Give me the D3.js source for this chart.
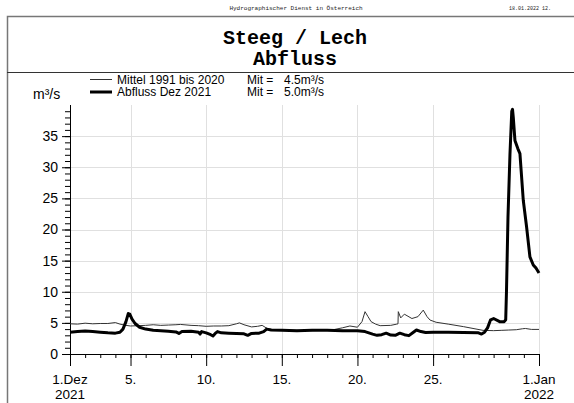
<!DOCTYPE html>
<html>
<head>
<meta charset="utf-8">
<script src="https://cdn.jsdelivr.net/npm/d3@7"></script>
<style>
  body { margin: 0; background: #fff; }
  text { font-family: Arial, "Liberation Sans", sans-serif; }
  .mono { font-family: "Courier New", "Liberation Mono", monospace; }
</style>
</head>
<body>
<script>
// days since 1 Dec 2021 00:00 and discharge in m3/s
var abflussDays = [0, 0.5, 1.0, 1.5, 2.0, 2.5, 3.0, 3.3, 3.5, 3.7, 3.85, 3.95, 4.1, 4.3, 4.6, 5.0, 5.5, 6.0, 6.5, 7.0, 7.2, 7.4,
  8.0, 8.5, 8.6, 8.7, 9.0, 9.3, 9.45, 9.6, 9.75, 10.0, 10.5, 11.0, 11.5, 11.75, 12.0, 12.5, 12.8, 13.0, 13.3, 14.0,
  15.0, 16.0, 17.0, 18.0, 19.0, 19.5, 20.0, 20.3, 20.6, 20.9, 21.2, 21.5, 21.8, 22.1, 22.4, 22.7, 22.9, 23.2, 23.5,
  24.0, 25.0, 26.0, 27.0, 27.2, 27.4, 27.6, 27.8, 28.0, 28.4, 28.7, 28.8, 28.85, 28.95, 29.08, 29.2, 29.25, 29.3,
  29.41, 29.6, 29.74, 29.96, 30.18, 30.4, 30.62, 30.8, 30.95, 31.0];
var abflussValues = [3.5, 3.6, 3.7, 3.6, 3.5, 3.4, 3.35, 3.5, 4.0, 5.2, 6.5, 6.4, 5.6, 4.9, 4.3, 4.0, 3.8, 3.75, 3.65, 3.55, 3.3, 3.6,
  3.65, 3.5, 3.2, 3.6, 3.4, 3.1, 2.9, 3.3, 3.6, 3.4, 3.35, 3.3, 3.25, 3.0, 3.3, 3.35, 3.6, 4.0, 3.85, 3.8,
  3.75, 3.8, 3.8, 3.75, 3.75, 3.6, 3.2, 3.0, 3.1, 3.35, 3.05, 3.0, 3.35, 3.1, 2.95, 3.5, 3.85, 3.6, 3.45,
  3.5, 3.5, 3.45, 3.4, 3.2, 3.5, 4.2, 5.5, 5.7, 5.2, 5.2, 5.5, 10, 22, 32, 39.0, 39.3, 38,
  34.3, 33, 32.2, 24.7, 20.4, 15.6, 14.3, 13.8, 13.2, 13.0];

var mittelDays = [0, 0.5, 1.0, 1.5, 2.0, 2.5, 3.0, 3.3, 3.7, 4.0, 4.5, 5.0, 5.5, 6.0, 6.5, 7.0, 7.3, 8.0, 8.5, 9.0, 9.5,
  10.0, 10.5, 11.0, 11.2, 11.5, 12.0, 12.4, 12.7, 13.1, 13.5, 14.0, 15.0, 16.0, 17.0, 17.5, 18.0, 18.5, 19.0,
  19.3, 19.5, 19.7, 19.9, 20.2, 20.5, 21.2, 21.6, 21.68, 21.7, 21.86, 22.1, 22.6, 23.0, 23.35, 23.6, 23.8, 24.2,
  25.0, 26.0, 27.3, 28.0, 28.5, 29.0, 29.5, 29.9, 30.1, 30.5, 31.0];
var mittelValues = [4.85, 4.8, 4.95, 4.85, 4.9, 4.9, 5.05, 4.8, 4.6, 4.5, 4.55, 4.6, 4.7, 4.6, 4.65, 4.7, 4.75, 4.6, 4.55, 4.45, 4.5,
  4.5, 4.55, 4.85, 5.0, 4.7, 4.35, 4.45, 4.6, 4.0, 3.9, 3.85, 3.8, 3.75, 3.8, 3.95, 4.2, 4.5, 4.3,
  5.2, 6.8, 6.0, 5.2, 4.8, 4.55, 4.6, 4.8, 4.85, 6.8, 5.8, 6.4, 5.7, 6.0, 7.05, 6.0, 5.45, 5.1,
  4.8, 4.4, 3.8, 3.75, 3.8, 3.85, 3.9, 4.05, 4.1, 3.95, 3.95];

var yTicks = [0, 5, 10, 15, 20, 25, 30, 35];
var xLabelDays = [5, 10, 15, 20, 25];
var legendNames = ["Mittel 1991 bis 2020", "Abfluss Dez 2021"];
var legendMeans = ["4.5m³/s", "5.0m³/s"];

var W = 574, H = 403;
var margin = {top: 105, left: 70, right: 35, bottom: 49},
    width = W - margin.left - margin.right,
    height = H - margin.top - margin.bottom;

var start = new Date(2021, 11, 1), end = new Date(2022, 0, 1);
function toDate(t) { return new Date(start.getTime() + t * 864e5); }

var svg = d3.select("body").append("svg")
    .attr("width", W)
    .attr("height", H);

svg.append("rect").attr("width", W).attr("height", H).attr("fill", "#fff");

// page frame and title box
svg.append("path")
  .attr("d", "M7.5," + H + "V16.5H" + W)
  .attr("fill", "none").attr("stroke", "#777").attr("stroke-width", 1.5);
svg.append("line")
  .attr("x1", 7).attr("x2", W).attr("y1", 72.5).attr("y2", 72.5)
  .attr("stroke", "#333").attr("stroke-width", 1);

svg.append("text").attr("class", "mono")
  .attr("x", 296).attr("y", 10).attr("text-anchor", "middle")
  .style("font-size", "6px").style("fill", "#222")
  .text("Hydrographischer Dienst in Österreich");
svg.append("text").attr("class", "mono")
  .attr("x", 509).attr("y", 10)
  .style("font-size", "5px").style("fill", "#222")
  .text("18.01.2022 12.");

svg.append("text").attr("class", "mono")
  .attr("x", 295).attr("y", 44).attr("text-anchor", "middle")
  .style("font-size", "20px").style("font-weight", "bold")
  .text("Steeg / Lech");
svg.append("text").attr("class", "mono")
  .attr("x", 295).attr("y", 65).attr("text-anchor", "middle")
  .style("font-size", "20px").style("font-weight", "bold")
  .text("Abfluss");

// legend
legendNames.forEach(function(name, i) {
  var ly = 79.5 + i * 12.5;
  svg.append("line")
    .attr("x1", 90).attr("x2", 112).attr("y1", ly).attr("y2", ly)
    .attr("stroke", i == 0 ? "#333" : "#000")
    .attr("stroke-width", i == 0 ? 1 : 3);
  svg.append("text").attr("x", 117).attr("y", ly + 4)
    .style("font-size", "12px").text(name);
  svg.append("text").attr("x", 247).attr("y", ly + 4)
    .style("font-size", "12px").text("Mit =");
  svg.append("text").attr("x", 284).attr("y", ly + 4)
    .style("font-size", "12px").text(legendMeans[i]);
});

svg.append("text").attr("x", 33).attr("y", 99)
  .style("font-size", "14px").text("m³/s");

var g = svg.append("g")
  .attr("transform", "translate(" + margin.left + "," + margin.top + ")");

var x = d3.scaleTime().domain([start, end]).range([0, width]);
var y = d3.scaleLinear().domain([0, 40]).range([height, 0]);

// grid
g.append("g").selectAll("line")
  .data(yTicks.filter(function(d) { return d > 0; }))
  .enter().append("line")
    .attr("x1", 0).attr("x2", width)
    .attr("y1", function(d) { return Math.round(y(d)) + 0.5; })
    .attr("y2", function(d) { return Math.round(y(d)) + 0.5; })
    .attr("stroke", "#e0e0e0");
g.append("g").selectAll("line")
  .data(xLabelDays.map(function(d) { return new Date(2021, 11, d); }).concat([end]))
  .enter().append("line")
    .attr("x1", function(d) { return Math.round(x(d)) + 0.5; })
    .attr("x2", function(d) { return Math.round(x(d)) + 0.5; })
    .attr("y1", 0).attr("y2", height)
    .attr("stroke", "#e0e0e0");

// y axis: minor ticks each unit, major every 5
g.append("g")
  .call(d3.axisLeft(y).tickValues(d3.range(0, 40)).tickSize(5).tickFormat(""))
  .call(function(a) { a.select(".domain").remove(); });
g.append("g")
  .call(d3.axisLeft(y).tickValues(yTicks).tickSize(8).tickPadding(4))
  .call(function(a) {
    a.select(".domain").attr("d", "M0.5," + height + "V0");
    a.selectAll("text").style("font-size", "14px").style("font-family", "Arial, 'Liberation Sans', sans-serif").attr("fill", "#000");
  });

// x axis: daily minor ticks, longer ticks at labelled days
var days = d3.timeDay.range(start, d3.timeDay.offset(end, 1));
g.append("g")
  .attr("transform", "translate(0," + height + ")")
  .call(d3.axisBottom(x).tickValues(days).tickSize(4).tickFormat(""))
  .call(function(a) { a.select(".domain").attr("d", "M0," + 0.5 + "H" + width); });

var majorDays = [start].concat(xLabelDays.map(function(d) { return new Date(2021, 11, d); }), [end]);
g.append("g")
  .attr("transform", "translate(0," + height + ")")
  .call(d3.axisBottom(x).tickValues(majorDays).tickSize(12).tickFormat(""))
  .call(function(a) { a.select(".domain").remove(); });

var fmt = d3.timeFormat("%-d");
majorDays.forEach(function(d) {
  var t = g.append("text")
    .attr("x", x(d)).attr("y", height + 30)
    .attr("text-anchor", "middle")
    .style("font-size", "13.5px");
  if (d.getTime() == start.getTime()) {
    t.text("1.Dez");
    g.append("text").attr("x", x(d)).attr("y", height + 45).attr("text-anchor", "middle")
      .style("font-size", "13.5px").text("2021");
  } else if (d.getTime() == end.getTime()) {
    t.text("1.Jan");
    g.append("text").attr("x", x(d)).attr("y", height + 45).attr("text-anchor", "middle")
      .style("font-size", "13.5px").text("2022");
  } else {
    t.text(fmt(d) + ".");
  }
});

// lines
var line = d3.line()
  .x(function(d) { return x(toDate(d[0])); })
  .y(function(d) { return y(d[1]); });

g.append("path")
  .datum(d3.zip(mittelDays, mittelValues))
  .attr("d", line)
  .attr("fill", "none")
  .attr("stroke", "#333")
  .attr("stroke-width", 1);

g.append("path")
  .datum(d3.zip(abflussDays, abflussValues))
  .attr("d", line)
  .attr("fill", "none")
  .attr("stroke", "#000")
  .attr("stroke-width", 3)
  .attr("stroke-linejoin", "round");
</script>
</body>
</html>
